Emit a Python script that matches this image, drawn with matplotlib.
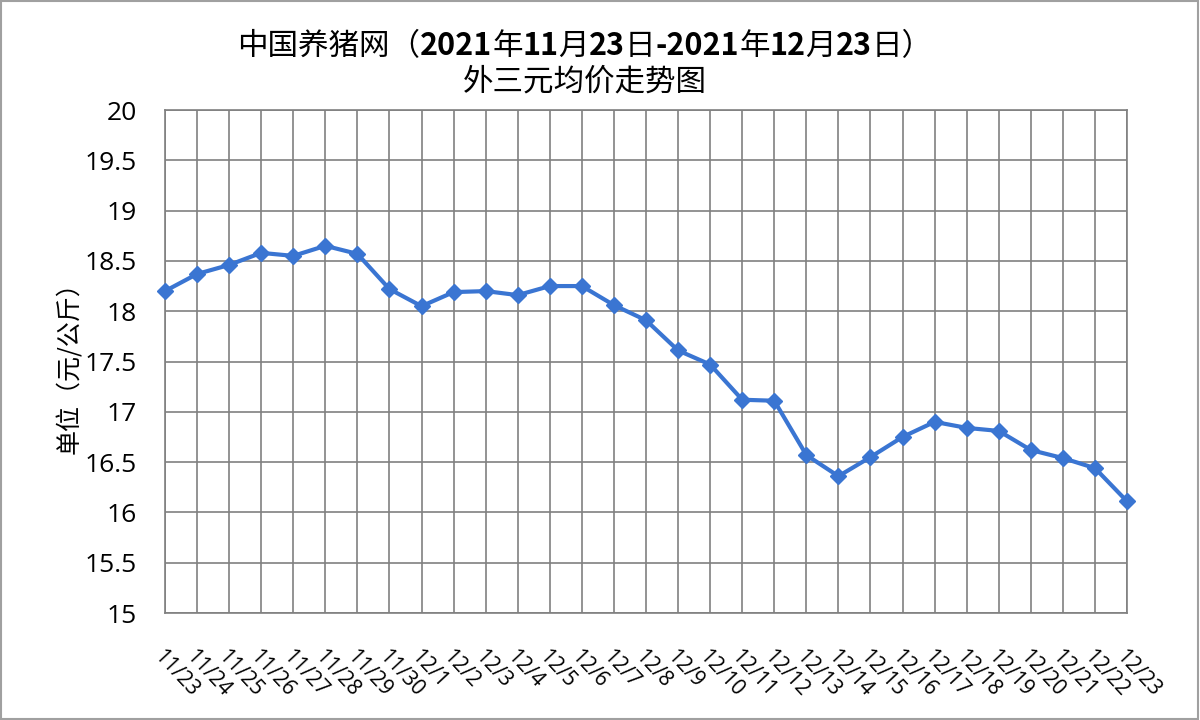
import matplotlib.pyplot as plt
from matplotlib.offsetbox import TextArea, HPacker, AnchoredOffsetbox
from matplotlib.patches import Rectangle

# --- data ---
dates = ["11/23", "11/24", "11/25", "11/26", "11/27", "11/28", "11/29", "11/30",
         "12/1", "12/2", "12/3", "12/4", "12/5", "12/6", "12/7", "12/8", "12/9",
         "12/10", "12/11", "12/12", "12/13", "12/14", "12/15", "12/16", "12/17",
         "12/18", "12/19", "12/20", "12/21", "12/22", "12/23"]
prices = [18.20, 18.37, 18.46, 18.58, 18.55, 18.65, 18.57, 18.22,
          18.05, 18.19, 18.20, 18.16, 18.25, 18.25, 18.06, 17.91, 17.61,
          17.47, 17.12, 17.11, 16.57, 16.36, 16.55, 16.75, 16.90,
          16.84, 16.81, 16.62, 16.54, 16.44, 16.11]
yticks = [15, 15.5, 16, 16.5, 17, 17.5, 18, 18.5, 19, 19.5, 20]

CJK = ['Noto Sans CJK SC', 'DejaVu Sans']
NUM = ['Open Sans', 'DejaVu Sans']
GRID = '#808080'
BLUE = '#3a75d2'

fig = plt.figure(figsize=(12, 7.2), dpi=100)
ax = fig.add_axes([0.1375, 0.1486, 0.8017, 0.6986])

x = list(range(len(dates)))
ax.plot(x, prices, color=BLUE, lw=3, marker='D', ms=8, clip_on=False, zorder=3)

ax.set_xlim(0, len(dates) - 1)
ax.set_ylim(15, 20)
ax.set_yticks(yticks)
ax.set_yticklabels([f'{v:g}' for v in yticks], fontfamily=NUM, fontsize=19)
ax.set_xticks(x)
ax.set_xticklabels(dates, fontfamily=NUM, fontsize=15, rotation=-47,
                   ha='left', va='top', rotation_mode='anchor')
ax.tick_params(axis='both', length=0)
ax.tick_params(axis='y', pad=20)
ax.tick_params(axis='x', pad=24)
ax.grid(True, color=GRID, lw=1.2)
ax.set_axisbelow(True)
for s in ax.spines.values():
    s.set_color(GRID)
    s.set_linewidth(1.2)

ax.set_ylabel('单位（元/公斤）', fontfamily=CJK, fontsize=18, labelpad=1)

# title: first line mixes regular CJK and bold digits
parts = [("中国养猪网（", 'normal'), ("2021", 'bold'), ("年", 'normal'), ("11", 'bold'),
         ("月", 'normal'), ("23", 'bold'), ("日", 'normal'), ("-2021", 'bold'),
         ("年", 'normal'), ("12", 'bold'), ("月", 'normal'), ("23", 'bold'), ("日）", 'normal')]
boxes = [TextArea(t, textprops=dict(family=CJK, fontsize=22, weight=w)) for t, w in parts]
line1 = HPacker(children=boxes, align='baseline', pad=0, sep=0)
ab = AnchoredOffsetbox(loc='center', child=line1, frameon=False,
                       bbox_to_anchor=(0.4875, 0.936), bbox_transform=fig.transFigure, pad=0)
fig.add_artist(ab)
fig.text(0.4875, 0.886, '外三元均价走势图', family=CJK, fontsize=22, ha='center', va='center')

fig.add_artist(Rectangle((0.001, 0.002), 0.997, 0.996, transform=fig.transFigure,
                         fill=False, edgecolor='#a0a0a0', lw=1.5))

fig.savefig('out.png', dpi=100)
